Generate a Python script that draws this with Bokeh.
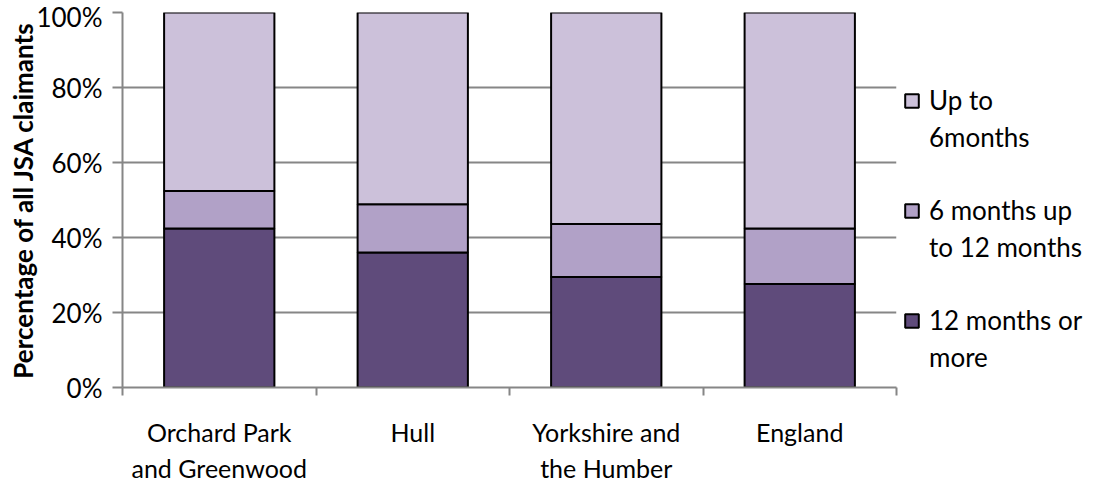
from bokeh.plotting import figure
from bokeh.models import ColumnDataSource, Range1d, FixedTicker, Legend, LegendItem, NumeralTickFormatter
from bokeh.embed import file_html
from bokeh.resources import INLINE

categories = ["Orchard Park\nand Greenwood", "Hull", "Yorkshire and\nthe Humber", "England"]
twelve_plus = [42.4, 36.0, 29.5, 27.6]
six_to_twelve = [10.0, 12.9, 14.1, 14.8]
up_to_six = [47.6, 51.1, 56.4, 57.6]
series_lines = [["12 months or", "more"], ["6 months up", "to 12 months"], ["Up to", "6months"]]
colors = ["#5F4B7B", "#B1A1C7", "#CCC1DA"]
y_ticks = [0, 20, 40, 60, 80, 100]

FONT = "Lato"
FS = "26px"
xs = [i + 0.5 for i in range(len(categories))]
src = ColumnDataSource(dict(x=xs, a=[v / 100 for v in twelve_plus],
                            b=[v / 100 for v in six_to_twelve],
                            c=[v / 100 for v in up_to_six]))

p = figure(frame_width=774, frame_height=375, output_backend="svg", toolbar_location=None,
           x_range=Range1d(0, len(categories)), y_range=Range1d(0, 1),
           min_border_left=122, min_border_right=186, min_border_top=12, min_border_bottom=89)
p.outline_line_color = None

rs = p.vbar_stack(["a", "b", "c"], x="x", width=0.57, source=src, fill_color=colors,
                  line_color="black", line_width=2)
dummy = p.vbar(x=[], top=[], width=0.1, fill_alpha=0, line_alpha=0)

# axes
p.xaxis.ticker = FixedTicker(ticks=xs, minor_ticks=list(range(len(categories) + 1)))
p.xaxis.major_label_overrides = {x: c for x, c in zip(xs, categories)}
p.xaxis.major_tick_out = 0
p.xaxis.major_tick_in = 0
p.xaxis.minor_tick_out = 8
p.xaxis.minor_tick_in = 0
p.xaxis.minor_tick_line_color = "#868686"
p.xaxis.minor_tick_line_width = 2
p.yaxis.ticker = FixedTicker(ticks=[t / 100 for t in y_ticks])
p.yaxis.formatter = NumeralTickFormatter(format="0%")
p.yaxis.major_tick_out = 10
p.yaxis.major_tick_in = 0
p.yaxis.minor_tick_line_color = None
for ax in (p.xaxis, p.yaxis):
    ax.axis_line_color = "#868686"
    ax.axis_line_width = 2
    ax.major_tick_line_color = "#868686"
    ax.major_tick_line_width = 2
    ax.major_label_text_font = FONT
    ax.major_label_text_font_size = FS
    ax.major_label_text_color = "black"
p.xaxis.major_label_text_font_size = "25px"
p.xaxis.major_label_standoff = 21
p.yaxis.major_label_standoff = 10
p.yaxis.axis_label = "Percentage of all JSA claimants"
p.yaxis.axis_label_text_font = FONT
p.yaxis.axis_label_text_font_style = "bold"
p.yaxis.axis_label_text_font_size = FS
p.yaxis.axis_label_standoff = -6
p.yaxis.axis_label_text_color = "black"

p.xgrid.grid_line_color = None
p.ygrid.grid_line_color = "#868686"
p.ygrid.grid_line_width = 2

items = []
for n, idx in enumerate((2, 1, 0)):
    if n > 0:
        items.append(LegendItem(label=" ", renderers=[dummy]))
    items.append(LegendItem(label=series_lines[idx][0], renderers=[rs[idx]]))
    items.append(LegendItem(label=series_lines[idx][1], renderers=[dummy]))
lg = Legend(items=items, location=(7, 14), glyph_width=17, glyph_height=17,
            label_text_font=FONT, label_text_font_size=FS, label_standoff=9,
            label_text_color="black",
            label_height=31, spacing=5, padding=0, margin=0, border_line_color=None,
            background_fill_alpha=0)
p.add_layout(lg, "right")

open("out.html", "w").write(file_html(p, INLINE))
